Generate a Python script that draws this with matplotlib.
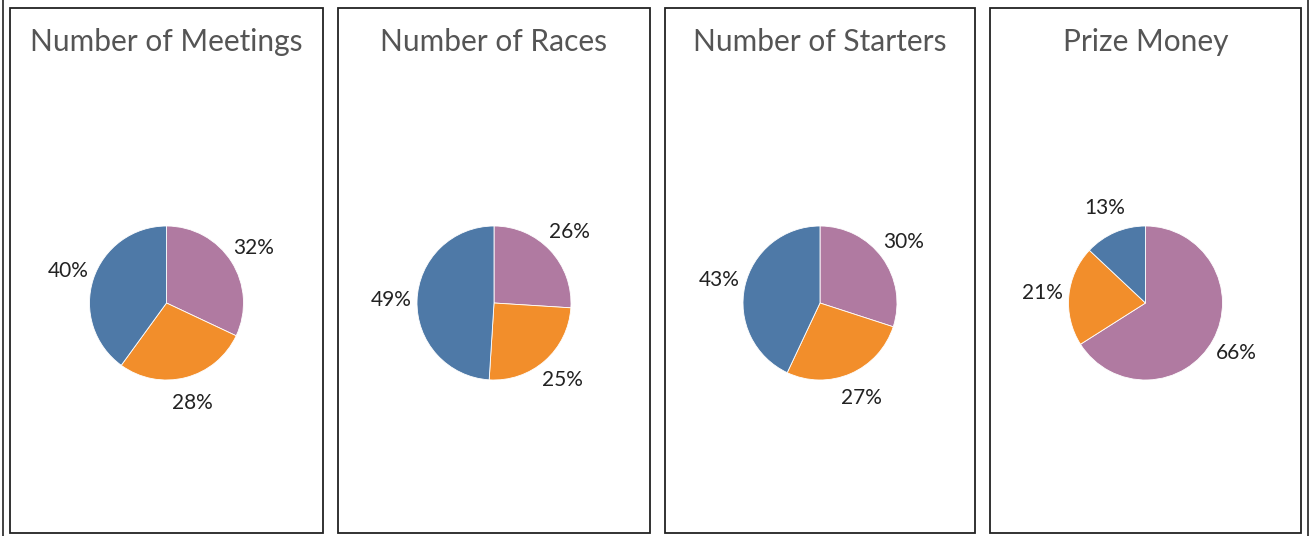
import matplotlib
matplotlib.use("Agg")
import matplotlib.pyplot as plt
from matplotlib.patches import Rectangle
from matplotlib.lines import Line2D

# ---- data ----
titles = ["Number of Meetings", "Number of Races", "Number of Starters", "Prize Money"]
pink_share = [32, 26, 30, 66]
orange_share = [28, 25, 27, 21]
blue_share = [40, 49, 43, 13]
slice_colors = ["#b07aa1", "#f28e2b", "#4e79a7"]

# ---- layout (pixels) ----
W, H = 1313, 536
panels_x = [(10, 323), (338, 650), (665, 975), (990, 1301)]
panel_top, panel_bottom = 8, 533
pie_cy = 303
pie_r = 77
title_y = 42

plt.rcParams['font.family'] = ['Lato', 'DejaVu Sans']
fig = plt.figure(figsize=(W / 100, H / 100), dpi=100)
fig.patch.set_facecolor("white")


def fx(x):
    return x / W


def fy(y):
    return 1 - y / H


# outer frame lines
for x in (2.5, 1307.5):
    fig.add_artist(Line2D([fx(x), fx(x)], [0, 1], transform=fig.transFigure,
                          color="#222222", lw=1.2))

half = 150  # half size of pie axes in px
for i, (x0, x1) in enumerate(panels_x):
    fig.add_artist(Rectangle((fx(x0), fy(panel_bottom)), (x1 - x0) / W,
                             (panel_bottom - panel_top) / H,
                             transform=fig.transFigure, fill=False,
                             ec="#222222", lw=1.3))
    cx = (x0 + x1) / 2
    fig.text(fx(cx), fy(title_y), titles[i], ha="center", va="center",
             fontsize=21.5, color="#555555", fontweight="normal")

    ax = fig.add_axes([fx(cx - half), fy(pie_cy + half), 2 * half / W, 2 * half / H])
    vals = [pink_share[i], orange_share[i], blue_share[i]]
    ax.pie(vals, colors=slice_colors, startangle=90, counterclock=False,
           radius=1, autopct=lambda p: f"{p:.0f}%", pctdistance=1.34,
           wedgeprops=dict(linewidth=0.6, edgecolor="white"),
           textprops=dict(fontsize=15, color="#222222"))
    lim = half / pie_r
    ax.set_xlim(-lim, lim)
    ax.set_ylim(-lim, lim)
    ax.set_aspect("equal")
    ax.axis("off")

fig.savefig("out.png", dpi=100)
